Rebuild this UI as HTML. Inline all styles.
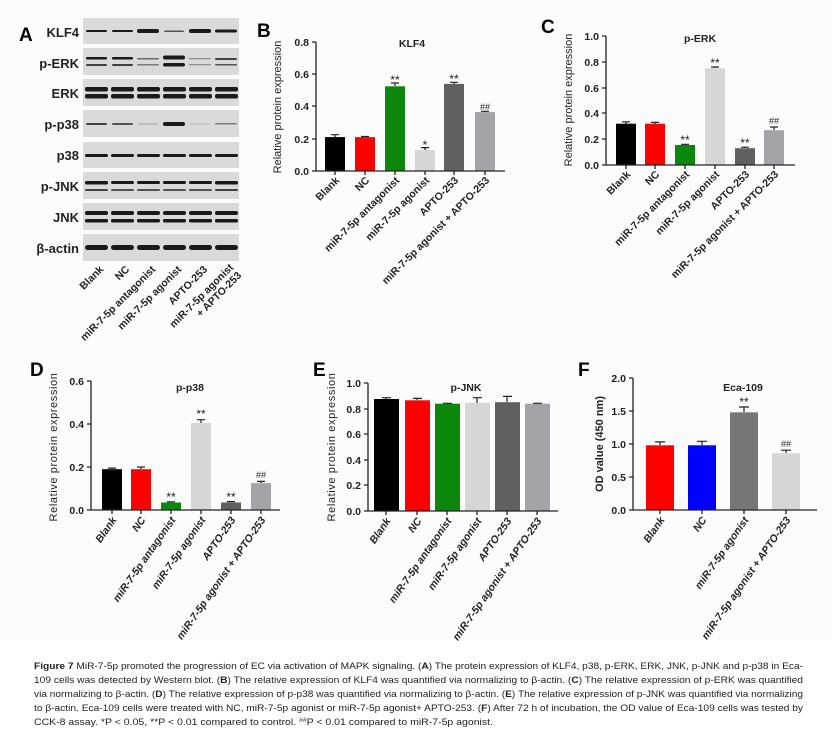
<!DOCTYPE html>
<html><head><meta charset="utf-8"><style>
body{margin:0;background:#fff}
svg{display:block}
text{font-family:"Liberation Sans",sans-serif}
.t{font-size:10.5px;font-weight:bold;fill:#222}
.xl{font-size:10.5px;font-weight:bold;fill:#222}
.xi{font-size:10.5px;font-weight:bold;font-style:italic;fill:#222}
.yt{font-size:11px;fill:#222}
.ti{font-size:10.5px;font-weight:bold;fill:#222}
.pl{font-size:19px;font-weight:bold;fill:#000}
.st{font-size:12px;fill:#222}
.bl{font-size:13px;font-weight:bold;fill:#222}
.cap{font-size:9.3px;fill:#222}
.ax{stroke:#222;stroke-width:1.3;fill:none}
.er{stroke:#222;stroke-width:1.2;fill:none}
</style></head><body>
<svg width="832" height="737" viewBox="0 0 832 737" xmlns="http://www.w3.org/2000/svg">
<rect width="832" height="737" fill="#fff"/>
<rect x="0" y="0" width="832" height="640" fill="#fcfcfc"/>

<!-- Panel A -->
<text class="pl" x="19" y="41">A</text>
<g fill="#dadada">
<rect x="83" y="18" width="156" height="26"/><rect x="83" y="48" width="156" height="27"/>
<rect x="83" y="79" width="156" height="27"/><rect x="83" y="110" width="156" height="27"/>
<rect x="83" y="142" width="156" height="26"/><rect x="83" y="172" width="156" height="27"/>
<rect x="83" y="203" width="156" height="27"/><rect x="83" y="234" width="156" height="27"/>
</g>
<g class="bl" text-anchor="end">
<text x="79" y="37">KLF4</text><text x="79" y="68">p-ERK</text><text x="79" y="98">ERK</text>
<text x="79" y="129">p-p38</text><text x="79" y="160">p38</text><text x="79" y="191">p-JNK</text>
<text x="79" y="222">JNK</text><text x="79" y="253">β-actin</text>
</g>
<g fill="#1a1a1a">
<rect x="86" y="30" width="21" height="2" rx="1"/><rect x="112" y="30" width="21" height="2" rx="1"/>
<rect x="137" y="29" width="22" height="4" rx="2"/><rect x="164" y="30.5" width="20" height="1.5" rx="1" opacity=".7"/>
<rect x="189" y="29" width="22" height="4" rx="2"/><rect x="215" y="29.5" width="22" height="3" rx="1.5"/>
<rect x="86" y="57" width="21" height="2.5" rx="1"/><rect x="112" y="57" width="21" height="2.5" rx="1"/>
<rect x="137" y="58" width="22" height="1.5" rx="1" opacity=".6"/><rect x="163" y="55.5" width="22" height="4" rx="2"/>
<rect x="189" y="58" width="22" height="1.2" rx="1" opacity=".4"/><rect x="215" y="58" width="22" height="2" rx="1" opacity=".8"/>
<rect x="86" y="64" width="21" height="2" rx="1" opacity=".8"/><rect x="112" y="64" width="21" height="2" rx="1" opacity=".8"/>
<rect x="137" y="64" width="22" height="1.5" rx="1" opacity=".5"/><rect x="163" y="63" width="22" height="3.5" rx="2"/>
<rect x="189" y="64" width="22" height="1.2" rx="1" opacity=".4"/><rect x="215" y="64" width="22" height="1.5" rx="1" opacity=".7"/>
<rect x="85" y="87" width="23" height="4.5" rx="2"/><rect x="111" y="87" width="23" height="4.5" rx="2"/>
<rect x="137" y="87" width="23" height="4.5" rx="2"/><rect x="163" y="87" width="23" height="4.5" rx="2"/>
<rect x="189" y="87" width="23" height="4.5" rx="2"/><rect x="215" y="87" width="23" height="4.5" rx="2"/>
<rect x="85" y="94" width="23" height="4.5" rx="2"/><rect x="111" y="94" width="23" height="4.5" rx="2"/>
<rect x="137" y="94" width="23" height="4.5" rx="2"/><rect x="163" y="94" width="23" height="4.5" rx="2"/>
<rect x="189" y="94" width="23" height="4.5" rx="2"/><rect x="215" y="94" width="23" height="4.5" rx="2"/>
<rect x="86" y="123" width="21" height="2" rx="1" opacity=".8"/><rect x="112" y="123" width="21" height="2" rx="1" opacity=".7"/>
<rect x="138" y="123.5" width="20" height="1" rx="1" opacity=".3"/><rect x="163" y="122" width="22" height="4" rx="2"/>
<rect x="190" y="123.5" width="20" height="1" rx="1" opacity=".2"/><rect x="215" y="123" width="22" height="1.5" rx="1" opacity=".5"/>
<rect x="85" y="154" width="23" height="3" rx="1.5"/><rect x="111" y="154" width="23" height="3" rx="1.5"/>
<rect x="137" y="154" width="23" height="3" rx="1.5"/><rect x="163" y="154" width="23" height="3" rx="1.5"/>
<rect x="189" y="154" width="23" height="3" rx="1.5"/><rect x="215" y="154" width="23" height="3" rx="1.5"/>
<rect x="85" y="181" width="23" height="3.5" rx="1.5"/><rect x="111" y="181" width="23" height="3" rx="1.5"/>
<rect x="137" y="181" width="23" height="3" rx="1.5"/><rect x="163" y="181" width="23" height="3" rx="1.5"/>
<rect x="189" y="181" width="23" height="3" rx="1.5"/><rect x="215" y="181" width="23" height="3.5" rx="1.5"/>
<rect x="85" y="189" width="23" height="2" rx="1" opacity=".8"/><rect x="111" y="189" width="23" height="2" rx="1" opacity=".7"/>
<rect x="137" y="189" width="23" height="2" rx="1" opacity=".7"/><rect x="163" y="189" width="23" height="2" rx="1" opacity=".7"/>
<rect x="189" y="189" width="23" height="2" rx="1" opacity=".7"/><rect x="215" y="189" width="23" height="2" rx="1" opacity=".8"/>
<rect x="85" y="211" width="23" height="4" rx="2"/><rect x="111" y="211" width="23" height="4" rx="2"/>
<rect x="137" y="211" width="23" height="4" rx="2"/><rect x="163" y="211" width="23" height="4" rx="2"/>
<rect x="189" y="211" width="23" height="4" rx="2"/><rect x="215" y="211" width="23" height="4" rx="2"/>
<rect x="85" y="219" width="23" height="3.5" rx="1.5"/><rect x="111" y="219" width="23" height="3.5" rx="1.5"/>
<rect x="137" y="219" width="23" height="3.5" rx="1.5"/><rect x="163" y="219" width="23" height="3.5" rx="1.5"/>
<rect x="189" y="219" width="23" height="3.5" rx="1.5"/><rect x="215" y="219" width="23" height="3.5" rx="1.5"/>
<rect x="85" y="245" width="23" height="5" rx="2.5"/><rect x="111" y="245" width="23" height="5" rx="2.5"/>
<rect x="137" y="245" width="23" height="5" rx="2.5"/><rect x="163" y="245" width="23" height="5" rx="2.5"/>
<rect x="189" y="245" width="23" height="5" rx="2.5"/><rect x="215" y="245" width="23" height="5" rx="2.5"/>
</g>
<g class="xl" text-anchor="end">
<text transform="translate(104,270) rotate(-45)">Blank</text>
<text transform="translate(130,270) rotate(-45)">NC</text>
<text transform="translate(156,270) rotate(-45)">miR-7-5p antagonist</text>
<text transform="translate(182,270) rotate(-45)">miR-7-5p agonist</text>
<text transform="translate(208,270) rotate(-45)">APTO-253</text>
<text transform="translate(234,268) rotate(-45)">miR-7-5p agonist</text>
<text transform="translate(242,276) rotate(-45)">+ APTO-253</text>
</g>

<!-- Panel B -->
<text class="pl" x="257" y="37">B</text>
<text class="yt" transform="translate(281,107) rotate(-90)" text-anchor="middle">Relative protein expression</text>
<text class="ti" x="412" y="47" text-anchor="middle">KLF4</text>
<rect x="325" y="137.1" width="20" height="33.9" fill="#000"/>
<rect x="355" y="137.1" width="20" height="33.9" fill="#f00"/>
<rect x="385" y="86.3" width="20" height="84.7" fill="#0b870b"/>
<rect x="415" y="150" width="20" height="21" fill="#d6d6d6"/>
<rect x="444" y="83.9" width="20" height="87.1" fill="#606060"/>
<rect x="475" y="112.1" width="20" height="58.9" fill="#a3a3a8"/>
<path class="er" d="M335 137v-2.4M331 134.7h8M365 137v-.6M361 136.5h8M395 86v-3M391 83h8M425 150v-2.4M421 147.6h8M454 84v-1.6M450 82.3h8M485 112v-.8M481 111.3h8"/>
<g class="st" text-anchor="middle"><text x="395" y="84">**</text><text x="425" y="149">*</text><text x="454" y="83">**</text><text x="485" y="110" font-size="9">##</text></g>
<path class="ax" d="M316 42V171H505M312 42h4M312 74h4M312 106h4M312 139h4M312 171h4M335 171v4M365 171v4M395 171v4M425 171v4M454 171v4M485 171v4"/>
<g class="t" text-anchor="end"><text x="309" y="46">0.8</text><text x="309" y="78">0.6</text><text x="309" y="110">0.4</text><text x="309" y="143">0.2</text><text x="309" y="175">0.0</text></g>
<g class="xl" text-anchor="end">
<text transform="translate(340,181) rotate(-45)">Blank</text>
<text transform="translate(370,181) rotate(-45)">NC</text>
<text transform="translate(400,181) rotate(-45)">miR-7-5p antagonist</text>
<text transform="translate(430,181) rotate(-45)">miR-7-5p agonist</text>
<text transform="translate(459,181) rotate(-45)">APTO-253</text>
<text transform="translate(490,181) rotate(-45)">miR-7-5p agonist + APTO-253</text>
</g>

<!-- Panel C -->
<text class="pl" x="541" y="33">C</text>
<text class="yt" transform="translate(572,100) rotate(-90)" text-anchor="middle">Relative protein expression</text>
<text class="ti" x="700" y="42" text-anchor="middle">p-ERK</text>
<rect x="616" y="123.7" width="20" height="41.3" fill="#000"/>
<rect x="645" y="123.7" width="20" height="41.3" fill="#f00"/>
<rect x="675" y="145" width="20" height="20" fill="#0b870b"/>
<rect x="705" y="68.3" width="20" height="96.7" fill="#d6d6d6"/>
<rect x="735" y="148.2" width="20" height="16.8" fill="#606060"/>
<rect x="764" y="130.2" width="20" height="34.8" fill="#a3a3a8"/>
<path class="er" d="M626 124v-2.2M622 121.8h8M655 124v-1.3M651 122.4h8M685 145v-.7M681 144.3h8M715 68v-1.3M711 67h8M745 148v-1M741 147.2h8M774 130v-3.2M770 127h8"/>
<g class="st" text-anchor="middle"><text x="685" y="144">**</text><text x="715" y="67">**</text><text x="745" y="147">**</text><text x="774" y="124" font-size="9">##</text></g>
<path class="ax" d="M606 36V165H795M602 36h4M602 62h4M602 88h4M602 113h4M602 139h4M602 165h4M626 165v4M655 165v4M685 165v4M715 165v4M745 165v4M774 165v4"/>
<g class="t" text-anchor="end"><text x="599" y="40">1.0</text><text x="599" y="66">0.8</text><text x="599" y="92">0.6</text><text x="599" y="117">0.4</text><text x="599" y="143">0.2</text><text x="599" y="169">0.0</text></g>
<g class="xl" text-anchor="end">
<text transform="translate(631,175) rotate(-45)">Blank</text>
<text transform="translate(660,175) rotate(-45)">NC</text>
<text transform="translate(690,175) rotate(-45)">miR-7-5p antagonist</text>
<text transform="translate(720,175) rotate(-45)">miR-7-5p agonist</text>
<text transform="translate(750,175) rotate(-45)">APTO-253</text>
<text transform="translate(779,175) rotate(-45)">miR-7-5p agonist + APTO-253</text>
</g>

<!-- Panel D -->
<text class="pl" x="30" y="376">D</text>
<text class="yt" transform="translate(57,447) rotate(-90)" text-anchor="middle" letter-spacing=".6">Relative protein expression</text>
<text class="ti" x="190" y="391" text-anchor="middle">p-p38</text>
<rect x="102" y="469.2" width="20" height="40.8" fill="#000"/>
<rect x="131" y="469.2" width="20" height="40.8" fill="#f00"/>
<rect x="161" y="502.5" width="20" height="7.5" fill="#0b870b"/>
<rect x="191" y="422.9" width="20" height="87.1" fill="#d6d6d6"/>
<rect x="221" y="502.5" width="20" height="7.5" fill="#606060"/>
<rect x="251" y="483.1" width="20" height="26.9" fill="#a3a3a8"/>
<path class="er" d="M112 469v-1M108 468.1h8M141 469v-2M137 467h8M171 502v-.6M167 501.8h8M201 423v-3.3M197 419.7h8M231 502v-.9M227 501.6h8M261 483v-1.7M257 481.4h8"/>
<g class="st" text-anchor="middle"><text x="171" y="501">**</text><text x="201" y="418">**</text><text x="231" y="501">**</text><text x="261" y="478" font-size="9">##</text></g>
<path class="ax" d="M91 381V510H280M87 381h4M87 424h4M87 467h4M87 510h4M112 510v4M141 510v4M171 510v4M201 510v4M231 510v4M261 510v4"/>
<g class="t" text-anchor="end"><text x="84" y="385">0.6</text><text x="84" y="428">0.4</text><text x="84" y="471">0.2</text><text x="84" y="514">0.0</text></g>
<g class="xi" text-anchor="end">
<text transform="translate(117,520) rotate(-55)">Blank</text>
<text transform="translate(146,520) rotate(-55)">NC</text>
<text transform="translate(176,520) rotate(-55)">miR-7-5p antagonist</text>
<text transform="translate(206,520) rotate(-55)">miR-7-5p agonist</text>
<text transform="translate(236,520) rotate(-55)">APTO-253</text>
<text transform="translate(266,520) rotate(-55)">miR-7-5p agonist + APTO-253</text>
</g>

<!-- Panel E -->
<text class="pl" x="313" y="376">E</text>
<text class="yt" transform="translate(335,447) rotate(-90)" text-anchor="middle" letter-spacing=".6">Relative protein expression</text>
<text class="ti" x="466" y="391" text-anchor="middle">p-JNK</text>
<rect x="374" y="399" width="25" height="112" fill="#000"/>
<rect x="405" y="400.3" width="25" height="110.7" fill="#f00"/>
<rect x="435" y="403.7" width="25" height="107.3" fill="#0b870b"/>
<rect x="465" y="402.8" width="25" height="108.2" fill="#d6d6d6"/>
<rect x="495" y="402.2" width="25" height="108.8" fill="#606060"/>
<rect x="525" y="403.7" width="25" height="107.3" fill="#a3a3a8"/>
<path class="er" d="M386 399v-1.3M382 397.7h9M417 400v-2M413 398.4h9M447 403v-.4M443 403.3h9M477 403v-5.1M473 397.7h9M507 402v-5.8M503 396.4h9M537 403v-.4M533 403.3h9"/>
<path class="ax" d="M368 383V511H558M364 383h4M364 409h4M364 434h4M364 460h4M364 485h4M364 511h4M386 511v4M417 511v4M447 511v4M477 511v4M507 511v4M537 511v4"/>
<g class="t" text-anchor="end"><text x="361" y="387">1.0</text><text x="361" y="413">0.8</text><text x="361" y="438">0.6</text><text x="361" y="464">0.4</text><text x="361" y="489">0.2</text><text x="361" y="515">0.0</text></g>
<g class="xi" text-anchor="end">
<text transform="translate(391,521) rotate(-55)">Blank</text>
<text transform="translate(422,521) rotate(-55)">NC</text>
<text transform="translate(452,521) rotate(-55)">miR-7-5p antagonist</text>
<text transform="translate(482,521) rotate(-55)">miR-7-5p agonist</text>
<text transform="translate(512,521) rotate(-55)">APTO-253</text>
<text transform="translate(542,521) rotate(-55)">miR-7-5p agonist + APTO-253</text>
</g>

<!-- Panel F -->
<text class="pl" x="578" y="376">F</text>
<text class="yt" transform="translate(603,444) rotate(-90)" text-anchor="middle" font-weight="bold">OD value (450 nm)</text>
<text class="ti" x="743" y="391" text-anchor="middle">Eca-109</text>
<rect x="646" y="445.3" width="28" height="64.7" fill="#f00"/>
<rect x="688" y="445.3" width="28" height="64.7" fill="#00f"/>
<rect x="730" y="412.3" width="28" height="97.7" fill="#777"/>
<rect x="772" y="453.2" width="28" height="56.8" fill="#d6d6d6"/>
<path class="er" d="M660 445v-3.3M655 441.9h10M702 445v-4M697 441.3h10M744 412v-5.3M739 407h10M786 453v-3M781 450.2h10"/>
<g class="st" text-anchor="middle"><text x="744" y="406">**</text><text x="786" y="447" font-size="9">##</text></g>
<path class="ax" d="M633 378V510H817M629 378h4M629 411h4M629 444h4M629 477h4M629 510h4M660 510v4M702 510v4M744 510v4M786 510v4"/>
<g class="t" text-anchor="end"><text x="626" y="382">2.0</text><text x="626" y="415">1.5</text><text x="626" y="448">1.0</text><text x="626" y="481">0.5</text><text x="626" y="514">0.0</text></g>
<g class="xi" text-anchor="end">
<text transform="translate(665,520) rotate(-55)">Blank</text>
<text transform="translate(707,520) rotate(-55)">NC</text>
<text transform="translate(749,520) rotate(-55)">miR-7-5p agonist</text>
<text transform="translate(791,520) rotate(-55)">miR-7-5p agonist + APTO-253</text>
</g>

<!-- Caption -->
<g class="cap">
<text x="34" y="669" textLength="769" lengthAdjust="spacingAndGlyphs"><tspan font-weight="bold">Figure 7</tspan> MiR-7-5p promoted the progression of EC via activation of MAPK signaling. (<tspan font-weight="bold">A</tspan>) The protein expression of KLF4, p38, p-ERK, ERK, JNK, p-JNK and p-p38 in Eca-</text>
<text x="34" y="683" textLength="769" lengthAdjust="spacingAndGlyphs">109 cells was detected by Western blot. (<tspan font-weight="bold">B</tspan>) The relative expression of KLF4 was quantified via normalizing to β-actin. (<tspan font-weight="bold">C</tspan>) The relative expression of p-ERK was quantified</text>
<text x="34" y="697" textLength="769" lengthAdjust="spacingAndGlyphs">via normalizing to β-actin. (<tspan font-weight="bold">D</tspan>) The relative expression of p-p38 was quantified via normalizing to β-actin. (<tspan font-weight="bold">E</tspan>) The relative expression of p-JNK was quantified via normalizing</text>
<text x="34" y="711" textLength="769" lengthAdjust="spacingAndGlyphs">to β-actin. Eca-109 cells were treated with NC, miR-7-5p agonist or miR-7-5p agonist+ APTO-253. (<tspan font-weight="bold">F</tspan>) After 72 h of incubation, the OD value of Eca-109 cells was tested by</text>
<text x="34" y="725" textLength="459" lengthAdjust="spacingAndGlyphs">CCK-8 assay. *P &lt; 0.05, **P &lt; 0.01 compared to control. <tspan font-size="6" dy="-3">##</tspan><tspan dy="3">P &lt; 0.01 compared to miR-7-5p agonist.</tspan></text>
</g>
</svg>
</body></html>
